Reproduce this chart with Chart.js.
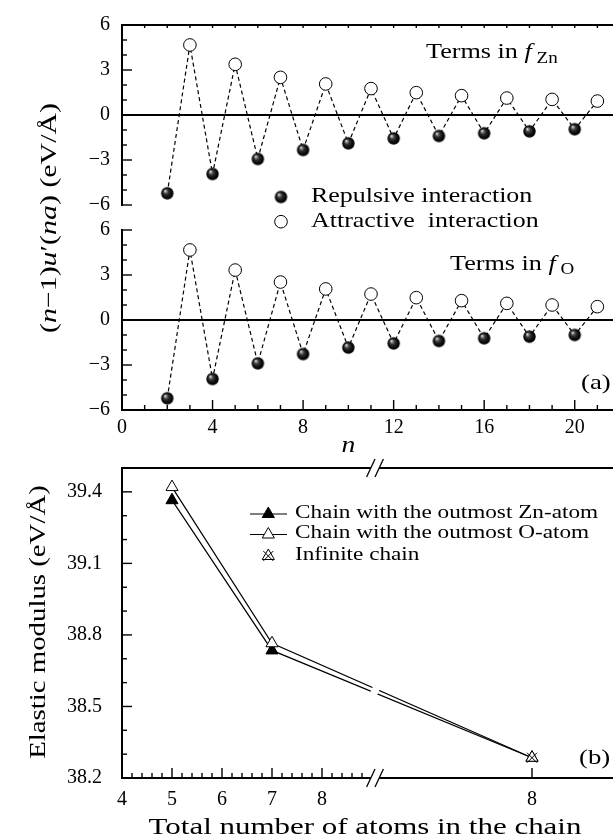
<!DOCTYPE html>
<html>
<head>
<meta charset="utf-8">
<script src="https://cdn.jsdelivr.net/npm/chart.js@4.4.1/dist/chart.umd.min.js"></script>
<style>
    html, body { margin: 0; padding: 0; background: #fff; overflow: hidden; }
    #wrap { position: relative; width: 613px; height: 839px; overflow: hidden; background: #fff; }
    #wrap canvas { position: absolute; left: 0; top: 0; }
</style>
</head>
<body>
<div id="wrap">
    <canvas id="znChart" width="640" height="839"></canvas>
    <canvas id="oChart" width="640" height="839"></canvas>
    <canvas id="modChart" width="640" height="839"></canvas>
</div>
<script>
// (a) terms (n-1)u'(na) for n = 2..21
const nValues = [2, 3, 4, 5, 6, 7, 8, 9, 10, 11, 12, 13, 14, 15, 16, 17, 18, 19, 20, 21];
const fZnTerms = [-5.22, 4.67, -3.93, 3.38, -2.93, 2.51, -2.33, 2.07, -1.89, 1.76, -1.56, 1.49, -1.40, 1.29, -1.22, 1.13, -1.09, 1.04, -0.95, 0.93];
const fOTerms = [-5.22, 4.67, -3.93, 3.33, -2.89, 2.53, -2.27, 2.07, -1.84, 1.73, -1.56, 1.49, -1.40, 1.29, -1.22, 1.11, -1.11, 1.00, -1.00, 0.89];
const termTicks = [-6, -3, 0, 3, 6];
const nTicks = [0, 4, 8, 12, 16, 20];

// (b) elastic modulus vs chain length; the last column is the infinite chain, drawn past the axis break
const INF_X = 12.2;
const AXIS_BREAK = 9.06;
const chainLength = [5, 7, INF_X];
const znModulus = [39.365, 38.735, 38.285];
const oModulus = [39.42, 38.765, 38.285];
const infModulus = [38.285];
const modTicks = [38.2, 38.5, 38.8, 39.1, 39.4];
const atomTicks = [4, 5, 6, 7, 8];
const infTickLabel = '8';

const SERIF = '"Liberation Serif", "Times New Roman", serif';
Chart.defaults.font.family = SERIF;
Chart.defaults.color = '#000';

// shaded ball used for the repulsive terms
function makeSphere(r) {
    const c = document.createElement('canvas');
    const s = Math.ceil(r * 2 + 2);
    c.width = s; c.height = s;
    const g = c.getContext('2d');
    const grad = g.createRadialGradient(s / 2 - r * 0.38, s / 2 - r * 0.42, r * 0.03, s / 2, s / 2, r);
    grad.addColorStop(0, '#ffffff');
    grad.addColorStop(0.14, '#9a9a9a');
    grad.addColorStop(0.4, '#333');
    grad.addColorStop(0.75, '#0a0a0a');
    grad.addColorStop(1, '#000');
    g.fillStyle = grad;
    g.beginPath();
    g.arc(s / 2, s / 2, r, 0, Math.PI * 2);
    g.fill();
    return c;
}
const sphere = makeSphere(6.2);

// text with italic / subscript parts, stretched a bit to get closer to the TeX look
function richText(ctx, parts, x, y, o) {
    const size = o.size, sx = o.sx || 1.2;
    const font = p => (p.it ? 'italic ' : '') + (p.sub ? Math.round(size * 0.72) : size) + 'px ' + SERIF;
    let w = 0;
    const ws = parts.map(p => { ctx.font = font(p); const m = ctx.measureText(p.t).width; w += m; return m; });
    ctx.save();
    ctx.translate(x, y);
    if (o.rot) ctx.rotate(o.rot);
    ctx.scale(sx, 1);
    let cx = o.align === 'center' ? -w / 2 : (o.align === 'right' ? -w : 0);
    ctx.fillStyle = '#000';
    ctx.textAlign = 'left';
    ctx.textBaseline = 'middle';
    parts.forEach((p, i) => {
        ctx.font = font(p);
        ctx.fillText(p.t, cx, p.sub ? size * 0.28 : 0);
        cx += ws[i];
    });
    ctx.restore();
}

function triangle(ctx, x, y, r, fill) {
    ctx.beginPath();
    for (let k = 0; k < 3; k++) {
        const a = k * 2 * Math.PI / 3;
        const px = x + Math.sin(a) * r, py = y - Math.cos(a) * r;
        if (k) ctx.lineTo(px, py); else ctx.moveTo(px, py);
    }
    ctx.closePath();
    ctx.fillStyle = fill;
    ctx.fill();
    ctx.stroke();
}

// axis lines and inward tick marks
const axesPlugin = {
    id: 'axes',
    beforeDatasetsDraw(chart, args, o) {
        const { ctx, chartArea: a } = chart;
        const xs = chart.scales.x, ys = chart.scales.y;
        ctx.save();
        ctx.strokeStyle = '#000';
        ctx.lineWidth = 2;
        const seg = (x1, y1, x2, y2) => { ctx.beginPath(); ctx.moveTo(x1, y1); ctx.lineTo(x2, y2); ctx.stroke(); };
        const xb = o.breakAt != null ? xs.getPixelForValue(o.breakAt) : null;
        const hLine = y => {
            if (xb === null) { seg(a.left - 1, y, a.right, y); return; }
            seg(a.left - 1, y, xb - 4.2, y);
            seg(xb + 4.2, y, a.right, y);
            ctx.lineWidth = 1.3;
            seg(xb - 8.4, y + 9, xb, y - 9);
            seg(xb, y + 9, xb + 8.4, y - 9);
            ctx.lineWidth = 2;
        };
        seg(a.left, a.top - 1, a.left, a.bottom + 1);
        if (o.top) hLine(a.top);
        if (o.bottom) hLine(a.bottom);
        ctx.lineWidth = 1.4;
        ys.ticks.forEach(t => {
            const p = ys.getPixelForValue(t.value);
            seg(a.left, p, a.left + (o.yMajor(t.value) ? 10 : 5), p);
        });
        xs.ticks.forEach(t => {
            const p = xs.getPixelForValue(t.value);
            if (o.bottom) seg(p, a.bottom, p, a.bottom - (o.xMajor(t.value) ? 10 : 5));
            if (o.topTicks) seg(p, a.top, p, a.top + 3);
        });
        if (o.zero) {
            ctx.lineWidth = 2;
            const p = Math.round(ys.getPixelForValue(0));
            seg(a.left, p, a.right, p);
        }
        ctx.restore();
    }
};

const tickFont = { family: SERIF, size: 20 };
const near = (v, list) => list.find(t => Math.abs(t - v) < 1e-6);
const fmt = v => String(v).replace('-', '\u2212');

function termsConfig(values, padTop, padBottom, xHeight, showX, extra) {
    const pts = nValues.map((n, i) => ({ x: n, y: values[i] }));
    return {
        type: 'line',
        data: {
            datasets: [
                {
                    label: 'Repulsive interaction',
                    data: pts.filter(p => p.y < 0),
                    showLine: false,
                    pointStyle: sphere,
                    pointRadius: 6,
                    order: 0
                },
                {
                    label: 'Attractive  interaction',
                    data: pts.filter(p => p.y > 0),
                    showLine: false,
                    pointStyle: 'circle',
                    pointRadius: 6.3,
                    pointBackgroundColor: '#fff',
                    pointBorderColor: '#000',
                    pointBorderWidth: 1,
                    order: 0
                },
                {
                    label: 'terms',
                    data: pts,
                    borderColor: '#000',
                    borderWidth: 1.2,
                    borderDash: [4, 3],
                    pointRadius: 0,
                    order: 1
                }
            ]
        },
        options: {
            responsive: false,
            animation: false,
            devicePixelRatio: 1,
            events: [],
            layout: { padding: { left: 0, right: 20, top: padTop, bottom: padBottom } },
            plugins: {
                legend: { display: false },
                tooltip: { enabled: false },
                axes: Object.assign({
                    yMajor: v => near(v, termTicks) !== undefined,
                    xMajor: v => v % 4 === 0,
                    zero: true
                }, extra)
            },
            scales: {
                x: {
                    type: 'linear', min: 0, max: 22,
                    grid: { display: false, drawTicks: false },
                    border: { display: false },
                    ticks: {
                        display: showX, stepSize: 1, autoSkip: false, maxRotation: 0, padding: 6,
                        font: tickFont, color: '#000',
                        callback: v => (near(v, nTicks) !== undefined ? fmt(v) : '')
                    },
                    afterFit: s => { s.height = xHeight; }
                },
                y: {
                    min: -6, max: 6,
                    grid: { display: false, drawTicks: false },
                    border: { display: false },
                    ticks: {
                        stepSize: 1, autoSkip: false, padding: 12, font: tickFont, color: '#000',
                        callback: v => (near(v, termTicks) !== undefined ? fmt(Math.round(v)) : '')
                    },
                    afterFit: s => { s.width = 122; }
                }
            }
        }
    };
}

// ---- (a) upper: terms in f_Zn
const znCfg = termsConfig(fZnTerms, 25, 634, 0, false, { top: true, topTicks: true });
znCfg.plugins = [axesPlugin, {
    id: 'znNotes',
    afterDraw(chart) {
        const ctx = chart.ctx;
        const ds = chart.data.datasets;
        richText(ctx, [{ t: 'Terms in ' }, { t: 'f', it: true }, { t: ' Zn', sub: true }], 426, 52.5, { size: 22, sx: 1.19 });
        ctx.drawImage(sphere, 281 - sphere.width / 2, 197 - sphere.height / 2);
        richText(ctx, [{ t: ds[0].label }], 311, 196, { size: 22, sx: 1.18 });
        ctx.save();
        ctx.beginPath();
        ctx.arc(281, 221.7, 6.3, 0, Math.PI * 2);
        ctx.fillStyle = '#fff';
        ctx.fill();
        ctx.lineWidth = 1;
        ctx.strokeStyle = '#000';
        ctx.stroke();
        ctx.restore();
        richText(ctx, [{ t: ds[1].label }], 311, 221.7, { size: 22, sx: 1.18 });
        richText(ctx, [
            { t: '(' }, { t: 'n', it: true }, { t: '\u22121)' }, { t: 'u', it: true }, { t: '\u2032(' },
            { t: 'n', it: true }, { t: 'a', it: true }, { t: ') (eV/\u00C5)' }
        ], 50, 218, { size: 23, sx: 1.3, rot: -Math.PI / 2, align: 'center' });
    }
}];
new Chart(document.getElementById('znChart'), znCfg);

// ---- (a) lower: terms in f_O
const oCfg = termsConfig(fOTerms, 230, 399, 30, true, { bottom: true });
oCfg.plugins = [axesPlugin, {
    id: 'oNotes',
    afterDraw(chart) {
        const ctx = chart.ctx;
        richText(ctx, [{ t: 'Terms in ' }, { t: 'f', it: true }, { t: ' O', sub: true }], 450, 264, { size: 22, sx: 1.19 });
        richText(ctx, [{ t: '(a)' }], 581, 383, { size: 22, sx: 1.22 });
        richText(ctx, [{ t: 'n', it: true }], chart.scales.x.getPixelForValue(10), 446, { size: 24, sx: 1.15, align: 'center' });
    }
}];
new Chart(document.getElementById('oChart'), oCfg);

// ---- (b) elastic modulus
const modTickValues = [];
for (let k = 0; k <= 24; k++) modTickValues.push(Math.round((4 + 0.2 * k) * 10) / 10);

new Chart(document.getElementById('modChart'), {
    type: 'line',
    data: {
        datasets: [
            {
                label: 'Chain with the outmost Zn-atom',
                data: chainLength.map((x, i) => ({ x, y: znModulus[i] })),
                borderColor: '#000',
                borderWidth: 1.2,
                pointStyle: 'triangle',
                pointRadius: 7,
                pointBackgroundColor: '#000',
                pointBorderColor: '#000',
                pointBorderWidth: 1,
                order: 2
            },
            {
                label: 'Chain with the outmost O-atom',
                data: chainLength.map((x, i) => ({ x, y: oModulus[i] })),
                borderColor: '#000',
                borderWidth: 1.2,
                pointStyle: 'triangle',
                pointRadius: 7,
                pointBackgroundColor: '#fff',
                pointBorderColor: '#000',
                pointBorderWidth: 1,
                order: 1
            },
            {
                label: 'Infinite chain',
                data: [{ x: INF_X, y: infModulus[0] }],
                showLine: false,
                pointStyle: 'crossRot',
                pointRadius: 7,
                pointBorderColor: '#000',
                pointBorderWidth: 1,
                order: 0
            }
        ]
    },
    options: {
        responsive: false,
        animation: false,
        devicePixelRatio: 1,
        events: [],
        layout: { padding: { left: 0, right: 18, top: 468, bottom: 0 } },
        plugins: {
            legend: { display: false },
            tooltip: { enabled: false },
            axes: {
                top: true, bottom: true, breakAt: AXIS_BREAK,
                yMajor: v => near(v, modTicks) !== undefined,
                xMajor: v => near(v, atomTicks) !== undefined || v === INF_X
            }
        },
        scales: {
            x: {
                type: 'linear', min: 4, max: 14,
                grid: { display: false, drawTicks: false },
                border: { display: false },
                afterBuildTicks: s => { s.ticks = modTickValues.concat([INF_X]).map(v => ({ value: v })); },
                ticks: {
                    autoSkip: false, maxRotation: 0, padding: 10, font: tickFont, color: '#000',
                    callback: v => (v === INF_X ? infTickLabel : (near(v, atomTicks) !== undefined ? String(near(v, atomTicks)) : ''))
                },
                afterFit: s => { s.height = 61; }
            },
            y: {
                min: 38.2, max: 39.5,
                grid: { display: false, drawTicks: false },
                border: { display: false },
                ticks: {
                    stepSize: 0.1, autoSkip: false, padding: 20, font: tickFont, color: '#000',
                    callback: v => { const t = near(v, modTicks); return t !== undefined ? t.toFixed(1) : ''; }
                },
                afterFit: s => { s.width = 122; }
            }
        }
    },
    plugins: [axesPlugin, {
        id: 'modNotes',
        afterDatasetsDraw(chart) {
            // cut both curves where they cross the axis break
            const ctx = chart.ctx;
            const xb = chart.scales.x.getPixelForValue(AXIS_BREAK);
            const ys = [0, 1].map(i => {
                const pts = chart.getDatasetMeta(i).data;
                for (let k = 0; k < pts.length - 1; k++) {
                    if (pts[k].x <= xb && pts[k + 1].x >= xb) {
                        const f = (xb - pts[k].x) / (pts[k + 1].x - pts[k].x);
                        return pts[k].y + f * (pts[k + 1].y - pts[k].y);
                    }
                }
                return null;
            });
            const yc = (ys[0] + ys[1]) / 2;
            ctx.save();
            ctx.fillStyle = '#fff';
            ctx.beginPath();
            ctx.moveTo(xb - 4 - 3.2, yc + 7);
            ctx.lineTo(xb - 4 + 3.2, yc - 7);
            ctx.lineTo(xb + 4 + 3.2, yc - 7);
            ctx.lineTo(xb + 4 - 3.2, yc + 7);
            ctx.closePath();
            ctx.fill();
            ctx.restore();
        },
        afterDraw(chart) {
            const ctx = chart.ctx;
            const ds = chart.data.datasets;
            const rows = [514, 534.5, 556];
            ctx.save();
            ctx.strokeStyle = '#000';
            ds.forEach((d, i) => {
                const y = rows[i];
                ctx.lineWidth = 1.2;
                if (d.showLine !== false) {
                    ctx.beginPath();
                    ctx.moveTo(250, y);
                    ctx.lineTo(287, y);
                    ctx.stroke();
                }
                ctx.lineWidth = 1;
                if (d.pointStyle === 'triangle') {
                    triangle(ctx, 268.3, y, 7, d.pointBackgroundColor);
                } else {
                    triangle(ctx, 268.3, y, 7, '#fff');
                    const o = Math.cos(Math.PI / 4) * 7;
                    ctx.beginPath();
                    ctx.moveTo(268.3 - o, y - o); ctx.lineTo(268.3 + o, y + o);
                    ctx.moveTo(268.3 + o, y - o); ctx.lineTo(268.3 - o, y + o);
                    ctx.stroke();
                }
                richText(ctx, [{ t: d.label }], 295, y - 1, { size: 18, sx: 1.29 });
            });
            ctx.restore();
            richText(ctx, [{ t: '(b)' }], 579, 758, { size: 22, sx: 1.22 });
            richText(ctx, [{ t: 'Elastic modulus (eV/\u00C5)' }], 39, 622, { size: 24, sx: 1.2, rot: -Math.PI / 2, align: 'center' });
            richText(ctx, [{ t: 'Total number of atoms in the chain' }], 365, 828, { size: 24, sx: 1.29, align: 'center' });
        }
    }]
});
</script>
</body>
</html>
